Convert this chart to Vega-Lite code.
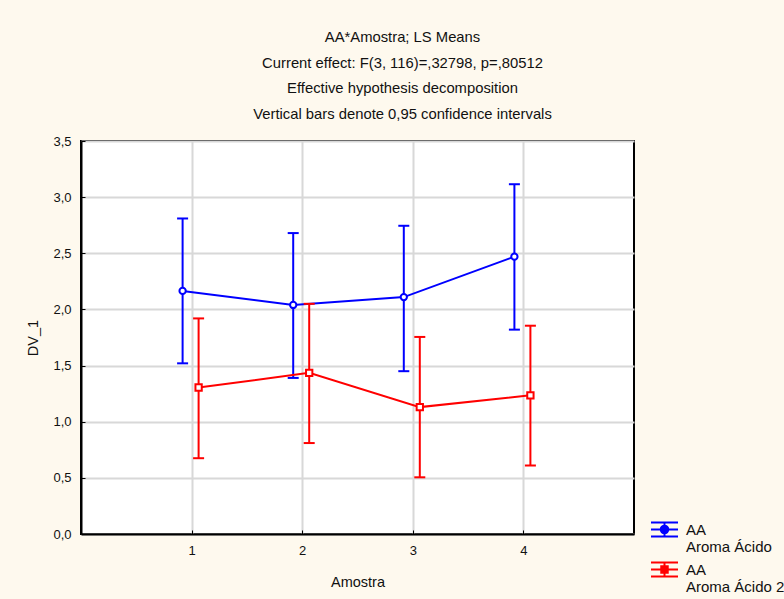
{
  "$schema": "https://vega.github.io/schema/vega-lite/v6.json",
  "width": 553,
  "height": 393,
  "autosize": {"type": "none"},
  "padding": {"left": 81, "top": 141, "right": 150, "bottom": 65},
  "background": "#FEF9EE",
  "config": {
    "view": {"stroke": "black", "strokeWidth": 2, "fill": "white"},
    "font": "Liberation Sans",
    "axis": {
      "labelFont": "Liberation Sans",
      "labelFontSize": 13,
      "labelColor": "#111111",
      "titleFont": "Liberation Sans",
      "titleFontSize": 14.5,
      "titleFontWeight": "normal",
      "titleColor": "#111111",
      "domainColor": "black",
      "domainWidth": 2,
      "tickColor": "black",
      "tickSize": -4,
      "gridColor": "#D8D8D8",
      "gridWidth": 2
    },
    "legend": {
      "labelFont": "Liberation Sans",
      "labelFontSize": 15,
      "labelColor": "#111111"
    }
  },
  "title": {
    "text": ["AA*Amostra; LS Means", "Current effect: F(3, 116)=,32798, p=,80512", "Effective hypothesis decomposition", "Vertical bars denote 0,95 confidence intervals"],
    "font": "Liberation Sans",
    "fontSize": 14.8,
    "fontWeight": "normal",
    "color": "#111111",
    "lineHeight": 25.7,
    "anchor": "middle",
    "frame": "group",
    "dx": 45,
    "offset": 13
  },
  "data": {
    "values": [
      {"serie": "Aroma Ácido", "Amostra": 1, "media": 2.165, "lo": 1.52, "hi": 2.81},
      {"serie": "Aroma Ácido", "Amostra": 2, "media": 2.04, "lo": 1.39, "hi": 2.68},
      {"serie": "Aroma Ácido", "Amostra": 3, "media": 2.11, "lo": 1.45, "hi": 2.745},
      {"serie": "Aroma Ácido", "Amostra": 4, "media": 2.47, "lo": 1.82, "hi": 3.115},
      {"serie": "Aroma Ácido 2", "Amostra": 1, "media": 1.305, "lo": 0.675, "hi": 1.92},
      {"serie": "Aroma Ácido 2", "Amostra": 2, "media": 1.435, "lo": 0.81, "hi": 2.05},
      {"serie": "Aroma Ácido 2", "Amostra": 3, "media": 1.13, "lo": 0.505, "hi": 1.755},
      {"serie": "Aroma Ácido 2", "Amostra": 4, "media": 1.235, "lo": 0.61, "hi": 1.855}
    ]
  },
  "encoding": {
    "x": {
      "field": "Amostra",
      "type": "quantitative",
      "scale": {"domain": [0, 5], "nice": false, "zero": false},
      "axis": {"values": [1, 2, 3, 4], "format": "d", "title": "Amostra", "labelPadding": 14, "titlePadding": 18}
    },
    "color": {
      "field": "serie",
      "type": "nominal",
      "scale": {"domain": ["Aroma Ácido", "Aroma Ácido 2"], "range": ["#0000FF", "#FF0000"]},
      "legend": {
        "title": null,
        "orient": "none",
        "legendX": 569,
        "legendY": 374,
        "labelExpr": "['AA', datum.label]",
        "labelBaseline": "alphabetic",
        "labelLineHeight": 21.5,
        "labelOffset": 7,
        "rowPadding": -1,
        "symbolSize": 729,
        "symbolStrokeWidth": 2,
        "encode": {
          "labels": {"update": {"dy": {"value": 5}}},
          "symbols": {
            "update": {
              "shape": {"signal": "datum.value === 'Aroma Ácido 2' ? 'M-1,-0.52H1M-1,0H1M-1,0.52H1M0,-0.52V0.52M-0.24,-0.24H0.24V0.24H-0.24Z' : 'M-1,-0.52H1M-1,0H1M-1,0.52H1M0,-0.52V0.52M0.28,0A0.28,0.28 0 1,1 -0.28,0A0.28,0.28 0 1,1 0.28,0'"},
              "fill": {"value": "transparent"},
              "strokeWidth": {"value": 2}
            }
          }
        }
      }
    }
  },
  "layer": [
    {
      "transform": [{"filter": "datum.serie === 'Aroma Ácido'"}],
      "layer": [
        {"mark": {"type": "rule", "strokeWidth": 2, "xOffset": -9}, "encoding": {"y": {"field": "lo", "type": "quantitative", "title": "DV_1", "scale": {"domain": [0, 3.5], "nice": false}, "axis": {"values": [0, 0.5, 1, 1.5, 2, 2.5, 3, 3.5], "labelExpr": "replace(format(datum.value, '.1f'), '.', ',')", "labelPadding": 14, "titlePadding": 12}}, "y2": {"field": "hi"}}},
        {"mark": {"type": "tick", "orient": "horizontal", "size": 11, "thickness": 2, "xOffset": -9, "opacity": 1}, "encoding": {"y": {"field": "lo", "type": "quantitative", "title": "DV_1"}}},
        {"mark": {"type": "tick", "orient": "horizontal", "size": 11, "thickness": 2, "xOffset": -9, "opacity": 1}, "encoding": {"y": {"field": "hi", "type": "quantitative", "title": "DV_1"}}},
        {"mark": {"type": "line", "strokeWidth": 2, "xOffset": -9}, "encoding": {"y": {"field": "media", "type": "quantitative", "title": "DV_1"}}},
        {"mark": {"type": "point", "shape": "circle", "size": 40, "filled": false, "fill": "white", "strokeWidth": 2, "opacity": 1, "xOffset": -9}, "encoding": {"y": {"field": "media", "type": "quantitative", "title": "DV_1"}}}
      ]
    },
    {
      "transform": [{"filter": "datum.serie === 'Aroma Ácido 2'"}],
      "layer": [
        {"mark": {"type": "rule", "strokeWidth": 2, "xOffset": 7}, "encoding": {"y": {"field": "lo", "type": "quantitative", "title": "DV_1"}, "y2": {"field": "hi"}}},
        {"mark": {"type": "tick", "orient": "horizontal", "size": 11, "thickness": 2, "xOffset": 7, "opacity": 1}, "encoding": {"y": {"field": "lo", "type": "quantitative", "title": "DV_1"}}},
        {"mark": {"type": "tick", "orient": "horizontal", "size": 11, "thickness": 2, "xOffset": 7, "opacity": 1}, "encoding": {"y": {"field": "hi", "type": "quantitative", "title": "DV_1"}}},
        {"mark": {"type": "line", "strokeWidth": 2, "xOffset": 7}, "encoding": {"y": {"field": "media", "type": "quantitative", "title": "DV_1"}}},
        {"mark": {"type": "point", "shape": "square", "size": 40, "filled": false, "fill": "white", "strokeWidth": 2, "opacity": 1, "xOffset": 7}, "encoding": {"y": {"field": "media", "type": "quantitative", "title": "DV_1"}}}
      ]
    }
  ]
}
